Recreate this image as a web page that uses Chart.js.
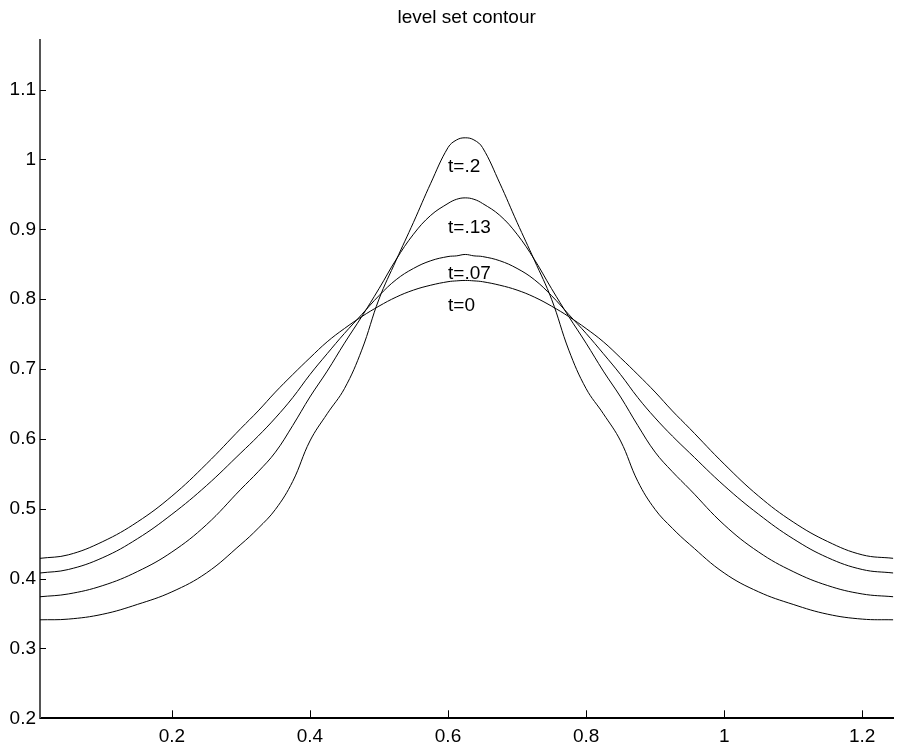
<!DOCTYPE html>
<html>
<head>
<meta charset="utf-8">
<title>level set contour</title>
<script src="https://cdn.jsdelivr.net/npm/chart.js@4.4.1/dist/chart.umd.min.js"></script>
<style>
  html, body { margin: 0; padding: 0; background: #fff; }
  #wrap { width: 901px; height: 746px; position: relative; }
</style>
</head>
<body>
<div id="wrap"><canvas id="c" width="901" height="746"></canvas></div>
<script>
// x positions along the interface
const xs = [0.009, 0.05, 0.10, 0.15, 0.20, 0.25, 0.30, 0.325, 0.35, 0.375, 0.40, 0.425, 0.45, 0.475,
            0.50, 0.525, 0.55, 0.575, 0.60, 0.6125, 0.625, 0.6375, 0.65, 0.675, 0.70, 0.725, 0.75,
            0.775, 0.80, 0.825, 0.85, 0.875, 0.90, 0.925, 0.95, 1.00, 1.05, 1.10, 1.15, 1.20, 1.245];

// contour heights at each time level
const t0 = [0.429, 0.434, 0.453, 0.481, 0.518, 0.564, 0.615, 0.640, 0.667, 0.692, 0.716, 0.739, 0.758, 0.775,
            0.790, 0.803, 0.813, 0.820, 0.825, 0.8262, 0.8268, 0.8262, 0.825, 0.820, 0.813, 0.803, 0.790,
            0.775, 0.758, 0.739, 0.716, 0.692, 0.667, 0.640, 0.615, 0.564, 0.518, 0.481, 0.453, 0.434, 0.429];
const t07 = [0.408, 0.413, 0.430, 0.457, 0.492, 0.533, 0.580, 0.604, 0.630, 0.659, 0.692, 0.722, 0.751, 0.778,
             0.805, 0.828, 0.844, 0.855, 0.861, 0.862, 0.864, 0.862, 0.861, 0.855, 0.844, 0.828, 0.805,
             0.778, 0.751, 0.722, 0.692, 0.659, 0.630, 0.604, 0.580, 0.533, 0.492, 0.457, 0.430, 0.413, 0.408];
const t13 = [0.374, 0.378, 0.390, 0.410, 0.438, 0.477, 0.528, 0.553, 0.581, 0.619, 0.660, 0.697, 0.737, 0.775,
             0.815, 0.857, 0.893, 0.920, 0.937, 0.943, 0.945, 0.943, 0.937, 0.920, 0.893, 0.857, 0.815,
             0.775, 0.737, 0.697, 0.660, 0.619, 0.581, 0.553, 0.528, 0.477, 0.438, 0.410, 0.390, 0.378, 0.374];
const t20 = [0.341, 0.342, 0.349, 0.363, 0.381, 0.408, 0.449, 0.472, 0.499, 0.539, 0.597, 0.636, 0.672, 0.727,
             0.800, 0.856, 0.910, 0.966, 1.017, 1.028, 1.031, 1.028, 1.017, 0.966, 0.910, 0.856, 0.800,
             0.727, 0.672, 0.636, 0.597, 0.539, 0.499, 0.472, 0.449, 0.408, 0.381, 0.363, 0.349, 0.342, 0.341];

// curve annotations
const labelTexts = ['t=.2', 't=.13', 't=.07', 't=0'];
const labelX = [0.6, 0.6, 0.6, 0.6];
const labelY = [0.99, 0.902, 0.836, 0.79];

const FONT = 'Liberation Sans, Arial, Helvetica, sans-serif';

function pts(vals) { return xs.map((x, i) => ({ x: x, y: vals[i] })); }
function fmt(v) { return String(Number(v.toFixed(2))); }

function line(vals) {
  return {
    data: pts(vals),
    borderColor: '#000',
    borderWidth: 1,
    pointRadius: 0,
    fill: false,
    tension: 0.4
  };
}

// inward tick marks and curve labels
const decorations = {
  id: 'decorations',
  afterDatasetsDraw(chart) {
    const ctx = chart.ctx, a = chart.chartArea;
    const sx = chart.scales.x, sy = chart.scales.y;
    ctx.save();
    ctx.strokeStyle = '#000';
    ctx.lineWidth = 1;
    ctx.beginPath();
    sx.ticks.forEach(t => {
      const px = Math.round(sx.getPixelForValue(t.value)) + 0.5;
      ctx.moveTo(px, a.bottom);
      ctx.lineTo(px, a.bottom - 8);
    });
    sy.ticks.forEach(t => {
      const py = Math.round(sy.getPixelForValue(t.value)) + 0.5;
      ctx.moveTo(a.left, py);
      ctx.lineTo(a.left + 6, py);
    });
    ctx.stroke();

    ctx.fillStyle = '#000';
    ctx.font = '19px ' + FONT;
    ctx.textAlign = 'left';
    ctx.textBaseline = 'middle';
    labelTexts.forEach((s, i) => {
      ctx.fillText(s, sx.getPixelForValue(labelX[i]), sy.getPixelForValue(labelY[i]));
    });
    ctx.restore();
  }
};

new Chart(document.getElementById('c'), {
  type: 'line',
  data: { datasets: [line(t0), line(t07), line(t13), line(t20)] },
  options: {
    responsive: false,
    animation: false,
    layout: { padding: { left: 0, right: 7.7, top: 0, bottom: 0 } },
    plugins: {
      legend: { display: false },
      tooltip: { enabled: false },
      title: {
        display: true,
        text: 'level set contour',
        fullSize: false,
        color: '#000',
        font: { family: FONT, size: 19, weight: 'normal' },
        padding: { top: 6, bottom: 11.2 }
      }
    },
    scales: {
      x: {
        type: 'linear',
        min: 0.009,
        max: 1.245,
        grid: { display: false, drawTicks: false },
        border: { display: true, color: '#000', width: 2 },
        ticks: {
          stepSize: 0.2,
          includeBounds: false,
          autoSkip: false,
          maxRotation: 0,
          padding: 7,
          color: '#000',
          font: { family: FONT, size: 19 },
          callback: v => fmt(v)
        },
        afterFit(s) { s.height = 27.7; }
      },
      y: {
        type: 'linear',
        min: 0.2,
        max: 1.171,
        grid: { display: false, drawTicks: false },
        border: { display: true, color: '#555', width: 2 },
        ticks: {
          stepSize: 0.1,
          includeBounds: false,
          autoSkip: false,
          padding: 4,
          color: '#000',
          font: { family: FONT, size: 19 },
          callback: v => fmt(v)
        },
        afterFit(s) { s.width = 40; }
      }
    }
  },
  plugins: [decorations]
});
</script>
</body>
</html>
